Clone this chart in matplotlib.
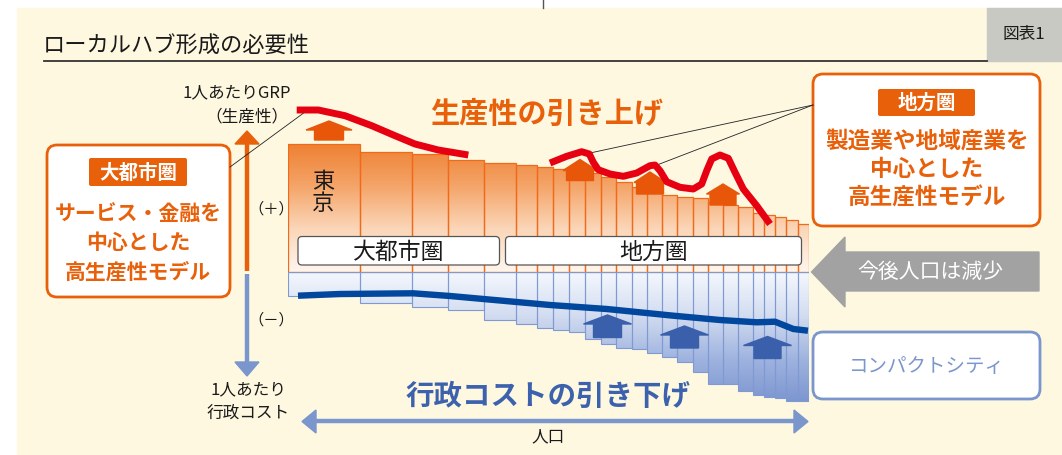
import numpy as np
import matplotlib
matplotlib.use("Agg")
import matplotlib.pyplot as plt
from matplotlib.patches import Rectangle, FancyBboxPatch, Polygon, PathPatch
from matplotlib.path import Path
from matplotlib.colors import LinearSegmentedColormap

plt.rcParams['font.family'] = ['Noto Sans CJK JP', 'DejaVu Sans']

# population share of each region (bar widths), Tokyo first
population = [72, 52, 36, 36, 32, 21, 16, 16, 16, 16, 15, 16, 15,
              15, 15, 16, 15, 15, 15, 15, 11, 11, 11, 12, 11]
# per-capita GRP (productivity), above the zero line
grp = [128, 120, 118, 112, 109, 107, 105, 103, 100, 99, 95, 90, 85,
       81, 77, 75, 74, 70, 67, 65, 59, 57, 55, 52, 48]
# per-capita administrative cost, below the zero line
admin_cost = [24, 31, 35, 38, 48, 52, 56, 58, 60, 67, 72, 76, 77,
              81, 85, 90, 100, 112, 112, 119, 123, 125, 126, 129, 129]

# productivity curves (metro area / regional area)
red1_x = [9.2, 30.8, 57.5, 84.2, 107.5, 127.5, 150.8, 180.8]
red1_y = [161.5, 161.5, 155.8, 145.8, 135.8, 127.5, 121.5, 116.5]
red2_x = [262.5, 279.2, 294.2, 301.8, 305.8, 310.8, 322.5, 335.8, 349.2, 362.5,
          367.5, 372.5, 379.2, 392.5, 405.8, 414.2, 419.2, 424.2, 432.5, 440.8,
          447.5, 455.8, 469.2, 482.5]
red2_y = [108.5, 115.2, 119.8, 117.5, 109.2, 101.8, 97.5, 95.2, 98.5, 105.8,
          106.5, 100.8, 89.8, 84.2, 82.5, 87.5, 100.8, 112.5, 116.5, 113.2,
          99.2, 82.5, 65.8, 47.5]
# administrative cost curve
blue_x = [10.5, 52.5, 125.5, 162.5, 212.5, 262.5, 319.2, 385.8, 432.5, 469.2,
          487.5, 505.8, 520.5]
blue_y = [-24.2, -22.5, -21.8, -24.5, -29, -33.5, -37.5, -44.2, -48.5, -50.8,
          -50.2, -57.5, -59.2]

ORANGE = '#e8600a'
BLUE_T = '#3d62ad'
BLUE_L = '#7a96cc'
DARK = '#1a1a1a'
W, H = 1062, 456
X0, Y0 = 287.5, 272.5  # pixel position of chart origin

fig = plt.figure(figsize=(W / 100, H / 100), dpi=100)
fig.patch.set_facecolor('white')

# overlay axes in pixel coordinates
ov = fig.add_axes([0, 0, 1, 1], zorder=0)
ov.set_xlim(0, W)
ov.set_ylim(H, 0)
ov.axis('off')

ov.add_patch(Rectangle((17, 8.5), W - 17, H - 8.5, color='#fef8e1', zorder=0))
ov.plot([543, 543], [0, 8.5], color='#555555', lw=1)
ov.add_patch(Rectangle((987, 8.5), 75, 53.5, color='#c9c9c3', zorder=1))
ov.text(1024, 35, '図表1', fontsize=12, ha='center', va='center', color=DARK)
ov.text(43, 46, 'ローカルハブ形成の必要性', fontsize=16, ha='left', va='center', color=DARK)
ov.plot([44, 987], [62, 62], color='#333333', lw=1.3)

# vertical axis arrow
ov.plot([247, 247], [142, 272], color=ORANGE, lw=3.2, solid_capstyle='butt')
ov.add_patch(Polygon([[247, 132], [235, 145], [259, 145]], color=ORANGE))
ov.plot([247, 247], [275, 366], color=BLUE_L, lw=3.2, solid_capstyle='butt')
ov.add_patch(Polygon([[247, 377], [235, 363], [259, 363]], color=BLUE_L))
ov.text(237, 93, '1人あたりGRP', fontsize=12, ha='center', va='center', color=DARK)
ov.text(247, 117, '（生産性）', fontsize=12, ha='center', va='center', color=DARK)
ov.text(248, 390, '1人あたり', fontsize=12, ha='center', va='center', color=DARK)
ov.text(248, 413, '行政コスト', fontsize=12, ha='center', va='center', color=DARK)
ov.text(271, 209, '（＋）', fontsize=11, ha='center', va='center', color=DARK)
ov.text(271, 320, '（－）', fontsize=11, ha='center', va='center', color=DARK)

# population arrow
ov.plot([312, 798], [422.5, 422.5], color=BLUE_L, lw=3.2, solid_capstyle='butt')
ov.add_patch(Polygon([[302, 422.5], [316, 411], [316, 434]], color=BLUE_L))
ov.add_patch(Polygon([[808, 422.5], [794, 411], [794, 434]], color=BLUE_L))
ov.text(548, 437, '人口', fontsize=12, ha='center', va='center', color=DARK)

# left callout
ov.add_patch(FancyBboxPatch((47, 146), 183, 152, boxstyle='round,pad=0,rounding_size=10',
                            fc='white', ec=ORANGE, lw=2))
ov.add_patch(FancyBboxPatch((89, 159), 98, 28, boxstyle='round,pad=0,rounding_size=2',
                            fc=ORANGE, ec='none'))
ov.text(138, 173, '大都市圏', fontsize=14, ha='center', va='center', color='white', weight='bold')
for txt, yy in zip(['サービス・金融を', '中心とした', '高生産性モデル'], [213, 243, 272]):
    ov.text(138, yy, txt, fontsize=15, ha='center', va='center', color=ORANGE, weight='bold')
ov.plot([230, 305], [168, 113], color='#222222', lw=0.6)

# right callout
ov.add_patch(FancyBboxPatch((813, 75), 227, 152, boxstyle='round,pad=0,rounding_size=10',
                            fc='white', ec=ORANGE, lw=2))
ov.add_patch(FancyBboxPatch((878, 90), 97, 27, boxstyle='round,pad=0,rounding_size=2',
                            fc=ORANGE, ec='none'))
ov.text(926.5, 103.5, '地方圏', fontsize=14, ha='center', va='center', color='white', weight='bold')
for txt, yy in zip(['製造業や地域産業を', '中心とした', '高生産性モデル'], [141.5, 170, 198]):
    ov.text(927, yy, txt, fontsize=16.3, ha='center', va='center', color=ORANGE, weight='bold')
ov.plot([813, 590], [106, 154], color='#222222', lw=0.6)
ov.plot([813, 657], [106, 166], color='#222222', lw=0.6)

# gray population-decline arrow
ov.add_patch(Polygon([[811.5, 273], [845, 238], [845, 253], [1039, 253], [1039, 292],
                      [845, 292], [845, 308]], color='#a2a2a2'))
ov.text(930, 272, '今後人口は減少', fontsize=15, ha='center', va='center', color='white')

# compact city box
ov.add_patch(FancyBboxPatch((813, 333), 227, 67, boxstyle='round,pad=0,rounding_size=10',
                            fc='white', ec=BLUE_L, lw=2))
ov.text(927, 367, 'コンパクトシティ', fontsize=14, ha='center', va='center', color=BLUE_L)

ov.text(547, 114, '生産性の引き上げ', fontsize=21, ha='center', va='center', color=ORANGE, weight='bold')
ov.text(548, 397, '行政コストの引き下げ', fontsize=20.5, ha='center', va='center', color=BLUE_T, weight='bold')

# chart axes: 1 data unit = 1 pixel
total = sum(population)
ax = fig.add_axes([X0 / W, (H - (Y0 + 180)) / H, total / W, 360 / H], zorder=1)
ax.patch.set_alpha(0)
ax.axis('off')

lefts = np.concatenate([[0], np.cumsum(population)[:-1]])
grp_a = np.array(grp)
cost_a = -np.array(admin_cost)

orange_cmap = LinearSegmentedColormap.from_list('o', ['#fff6ee', '#fbd6b8', '#f4a468', '#ee7f30'])
blue_cmap = LinearSegmentedColormap.from_list('b', ['#f5f8fd', '#d3ddf1', '#9fb3df', '#7b95d0'])

def bar_path(tops):
    rects = []
    for l, w, t in zip(lefts, population, tops):
        rects.append(Path([(l, 0), (l + w, 0), (l + w, t), (l, t), (l, 0)],
                          [Path.MOVETO, Path.LINETO, Path.LINETO, Path.LINETO, Path.CLOSEPOLY]))
    return Path.make_compound_path(*rects)

grad = np.linspace(0, 1, 256).reshape(-1, 1)
im1 = ax.imshow(grad, cmap=orange_cmap, origin='lower', extent=(0, total, 0, 130),
                aspect='auto', zorder=1)
clip1 = PathPatch(bar_path(grp_a), transform=ax.transData, fc='none', ec='none')
ax.add_patch(clip1)
im1.set_clip_path(clip1)

im2 = ax.imshow(grad[::-1], cmap=blue_cmap, origin='lower', extent=(0, total, -132, 0),
                aspect='auto', zorder=1)
clip2 = PathPatch(bar_path(cost_a), transform=ax.transData, fc='none', ec='none')
ax.add_patch(clip2)
im2.set_clip_path(clip2)

ax.bar(lefts, grp_a, width=population, align='edge', fill=False, edgecolor='#f06a1a', lw=0.9, zorder=2)
ax.bar(lefts, cost_a, width=population, align='edge', fill=False, edgecolor='#7f99d2', lw=0.8, zorder=2)
ax.set_xlim(0, total)
ax.set_ylim(-180, 180)

# region label boxes
for x, wd, lab in [(10.5, 201.5, '大都市圏'), (218, 296, '地方圏')]:
    ax.add_patch(FancyBboxPatch((x, 6.5), wd, 28.5, boxstyle='round,pad=0,rounding_size=4',
                                fc='white', ec='#555555', lw=0.9, zorder=3))
    ax.text(x + wd / 2, 20.5, lab, fontsize=16.5, ha='center', va='center', color=DARK, zorder=4)

ax.text(35.5, 91.5, '東', fontsize=16, ha='center', va='center', color=DARK, zorder=4)
ax.text(35.5, 68.5, '京', fontsize=16, ha='center', va='center', color=DARK, zorder=4)

def house(px, apex, eave, bottom, hw, rw, color):
    cx = px - X0
    ax.add_patch(Polygon([[cx - hw, Y0 - eave], [cx, Y0 - apex], [cx + hw, Y0 - eave],
                          [cx + rw, Y0 - eave], [cx + rw, Y0 - bottom], [cx - rw, Y0 - bottom],
                          [cx - rw, Y0 - eave]], color=color, zorder=4))

for h in [(329, 122, 131, 141, 23, 14.5), (580, 160.5, 171.5, 181.5, 17, 13.5),
          (650, 173, 183.5, 195, 16, 13.5), (723, 185, 195, 206, 16.5, 13)]:
    house(*h, '#e8560a')
for h in [(607.5, 316, 325, 338.5, 24, 14), (684.5, 327, 336, 349, 24, 14),
          (767.5, 337.5, 346.5, 359.5, 24, 13.5)]:
    house(*h, '#3a5fab')

ax.plot(red1_x, red1_y, color='#e60012', lw=5, solid_joinstyle='round', solid_capstyle='butt', zorder=5)
ax.plot(red2_x, red2_y, color='#e60012', lw=5, solid_joinstyle='round', solid_capstyle='butt', zorder=5)
ax.plot(blue_x, blue_y, color='#00479d', lw=4.6, solid_joinstyle='round', solid_capstyle='butt', zorder=5)

fig.savefig('out.png', dpi=100, facecolor=fig.get_facecolor())
